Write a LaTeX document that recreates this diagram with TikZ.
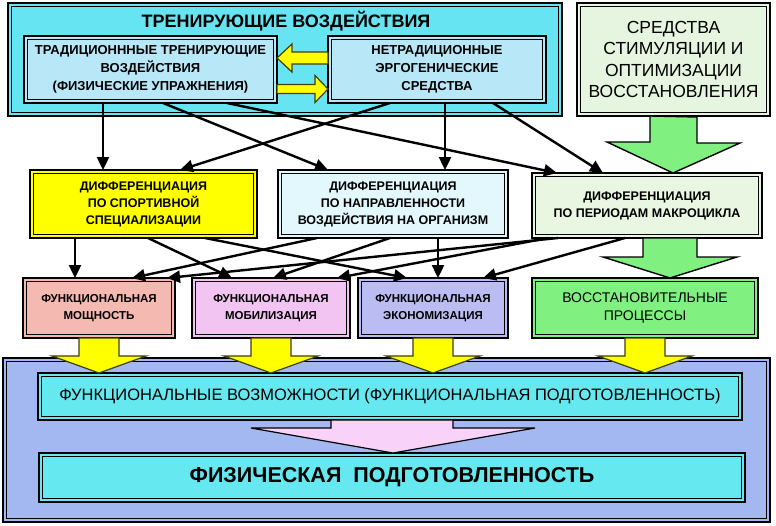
\documentclass[tikz,border=0pt]{standalone}
\usepackage{fontspec}
\setmainfont{Liberation Sans}
\usetikzlibrary{arrows.meta,calc}
\definecolor{trainfill}{HTML}{66E4F2}
\definecolor{innerfill}{HTML}{B8E8F8}
\definecolor{stimfill}{HTML}{E5F5E0}
\definecolor{yelfill}{HTML}{FFFF00}
\definecolor{naprfill}{HTML}{E3F8FD}
\definecolor{periodfill}{HTML}{E8F6E2}
\definecolor{pinkfill}{HTML}{F4B9B0}
\definecolor{lilacfill}{HTML}{F2C4F2}
\definecolor{lavfill}{HTML}{BBBDF2}
\definecolor{recovfill}{HTML}{80F080}
\definecolor{bigfill}{HTML}{A3B8F0}
\definecolor{funcfill}{HTML}{66E8F0}
\definecolor{parrowfill}{HTML}{F9D2F9}
\definecolor{yedge}{HTML}{404010}
\tikzset{
  dbox/.style={draw=black, line width=2.3pt, inner sep=0pt, outer sep=0pt, align=center,
    path picture={\draw[line width=0.8pt] ([shift={(3.4pt,3.4pt)}]path picture bounding box.south west) rectangle ([shift={(-3.4pt,-3.4pt)}]path picture bounding box.north east);}},
  barrow/.style={line width=2.4pt, -{Triangle[length=13pt,width=12pt]}},
  yarrow/.style={fill=yelfill, draw=yedge, line width=1.2pt, line join=miter},
  garrow/.style={fill=recovfill, draw=black, line width=1.4pt, line join=miter},
  parrow/.style={fill=parrowfill, draw=black, line width=1.2pt, line join=miter},
  ftitle/.style={font=\fontsize{18}{22}\selectfont\bfseries},
  finner/.style={font=\fontsize{13}{18}\selectfont\bfseries},
  fstim/.style={font=\fontsize{17.5}{21.5}\selectfont},
  frow/.style={font=\fontsize{12.5}{17}\selectfont\bfseries},
  ffun/.style={font=\fontsize{11.5}{17}\selectfont\bfseries},
  frec/.style={font=\fontsize{14}{18}\selectfont},
  fbig/.style={font=\fontsize{16.5}{20}\selectfont},
  fphys/.style={font=\fontsize{21.5}{25}\selectfont\bfseries},
}
\begin{document}
\begin{tikzpicture}[x=1pt,y=-1pt]
\useasboundingbox (0,0) rectangle (776,525);
\fill[white] (0,0) rectangle (776,525);

% top row
\node[dbox, fill=trainfill, minimum width=554pt, minimum height=113pt] (train) at (285,59.5) {};
\node[ftitle] (title) at (286,21) {ТРЕНИРУЮЩИЕ ВОЗДЕЙСТВИЯ};
\node[dbox, fill=innerfill, minimum width=253pt, minimum height=67pt, finner] (trad) at (150.5,69.5)
  {ТРАДИЦИОНННЫЕ ТРЕНИРУЮЩИЕ\\ВОЗДЕЙСТВИЯ\\(ФИЗИЧЕСКИЕ УПРАЖНЕНИЯ)};
\node[dbox, fill=innerfill, minimum width=218pt, minimum height=67pt, finner] (nontrad) at (437,69.5)
  {НЕТРАДИЦИОННЫЕ\\ЭРГОГЕНИЧЕСКИЕ\\СРЕДСТВА};
\node[dbox, fill=stimfill, minimum width=193pt, minimum height=113pt, fstim] (stim) at (673.5,59.5)
  {СРЕДСТВА\\СТИМУЛЯЦИИ И\\ОПТИМИЗАЦИИ\\ВОССТАНОВЛЕНИЯ};

% row 3
\node[dbox, fill=yelfill, minimum width=227pt, minimum height=68pt, frow] (spec) at (143.5,204)
  {ДИФФЕРЕНЦИАЦИЯ\\ПО СПОРТИВНОЙ\\СПЕЦИАЛИЗАЦИИ};
\node[dbox, fill=naprfill, minimum width=230pt, minimum height=68pt, frow] (napr) at (393,204)
  {ДИФФЕРЕНЦИАЦИЯ\\ПО НАПРАВЛЕННОСТИ\\ВОЗДЕЙСТВИЯ НА ОРГАНИЗМ};
\node[dbox, fill=periodfill, minimum width=230pt, minimum height=65pt, frow] (period) at (647,205.5)
  {ДИФФЕРЕНЦИАЦИЯ\\ПО ПЕРИОДАМ МАКРОЦИКЛА};

% row 4
\node[dbox, fill=pinkfill, minimum width=152pt, minimum height=60pt, ffun] (power) at (99,308)
  {ФУНКЦИОНАЛЬНАЯ\\МОЩНОСТЬ};
\node[dbox, fill=lilacfill, minimum width=158pt, minimum height=60pt, ffun] (mobil) at (271,308)
  {ФУНКЦИОНАЛЬНАЯ\\МОБИЛИЗАЦИЯ};
\node[dbox, fill=lavfill, minimum width=150pt, minimum height=60pt, ffun] (econ) at (433,308)
  {ФУНКЦИОНАЛЬНАЯ\\ЭКОНОМИЗАЦИЯ};
\node[dbox, fill=recovfill, minimum width=226pt, minimum height=60pt, frec] (recov) at (645,308)
  {ВОССТАНОВИТЕЛЬНЫЕ\\ПРОЦЕССЫ};

% bottom
\node[dbox, fill=bigfill, minimum width=767pt, minimum height=164pt] (big) at (386.5,440) {};
\node[dbox, fill=funcfill, minimum width=704pt, minimum height=47pt, fbig] (func) at (390,396.5)
  {ФУНКЦИОНАЛЬНЫЕ ВОЗМОЖНОСТИ (ФУНКЦИОНАЛЬНАЯ ПОДГОТОВЛЕННОСТЬ)};
\node[dbox, fill=funcfill, minimum width=706pt, minimum height=49pt, fphys] (phys) at (392,477.5)
  {ФИЗИЧЕСКАЯ~~ПОДГОТОВЛЕННОСТЬ};

% yellow arrows between inner boxes
\draw[yarrow] ([yshift=11.5pt]trad.east) -- ++(15,-14) -- ++(0,8) -- ++(36,0) -- ++(0,12) -- ++(-36,0) -- ++(0,8) -- cycle;
\draw[yarrow] ([yshift=-19.5pt]nontrad.west) -- ++(-13,-13.5) -- ++(0,9) -- ++(-38,0) -- ++(0,9) -- ++(38,0) -- ++(0,9) -- cycle;

% black arrows top -> row 3
\draw[barrow] ([xshift=-47.5pt]trad.south) -- ([xshift=-40.5pt]spec.north);
\draw[barrow] ([xshift=12.5pt]trad.south) -- ([xshift=-65pt]napr.north);
\draw[barrow] ([xshift=76.5pt]trad.south) -- ([xshift=-90pt]period.north);
\draw[barrow] ([xshift=-47pt]nontrad.south) -- ([xshift=36.5pt]spec.north);
\draw[barrow] ([xshift=8pt]nontrad.south) -- ([xshift=52pt]napr.north);
\draw[barrow] ([xshift=56pt]nontrad.south) -- ([xshift=-44pt]period.north);

% black arrows row 3 -> row 4
\draw[barrow] ([xshift=-68.5pt]spec.south) -- ([xshift=-24pt]power.north);
\draw[barrow] ([xshift=4.5pt]spec.south) -- ([xshift=-39pt]mobil.north);
\draw[barrow] ([xshift=61.5pt]spec.south) -- ([xshift=-26pt]econ.north);
\draw[barrow] ([xshift=-76pt]napr.south) -- ([xshift=33pt]power.north);
\draw[barrow] ([xshift=-3pt]napr.south) -- ([xshift=2pt]mobil.north);
\draw[barrow] ([xshift=45pt]napr.south) -- ([xshift=5pt]econ.north);
\draw[barrow] ([xshift=-89pt]period.south) -- ([xshift=68pt]power.north);
\draw[barrow] ([xshift=-99pt]period.south) -- ([xshift=66pt]mobil.north);
\draw[barrow] ([xshift=-22pt]period.south) -- ([xshift=50pt]econ.north);

% green block arrows
\draw[garrow] ([xshift=-23.5pt]stim.south) -- ++(0,26) -- ++(-43,0) -- ([xshift=26pt]period.north) -- ++(67,-30) -- ++(-43,0) -- ++(0,-26) -- cycle;
\draw[garrow] ([xshift=-4pt]period.south) -- ++(0,19) -- ++(-40,0) -- ([xshift=25pt]recov.north) -- ++(67,-21) -- ++(-40,0) -- ++(0,-19) -- cycle;

% yellow block arrows to functional capabilities
\draw[yarrow] ([xshift=-20pt]power.south) -- ++(0,18) -- ++(-27,0) -- ([xshift=-291pt]func.north) -- ++(47,-17) -- ++(-27,0) -- ++(0,-18) -- cycle;
\draw[yarrow] ([xshift=-20pt]mobil.south) -- ++(0,18) -- ++(-27,0) -- ([xshift=-119pt]func.north) -- ++(47,-17) -- ++(-27,0) -- ++(0,-18) -- cycle;
\draw[yarrow] ([xshift=-20pt]econ.south) -- ++(0,18) -- ++(-27,0) -- ([xshift=43pt]func.north) -- ++(47,-17) -- ++(-27,0) -- ++(0,-18) -- cycle;
\draw[yarrow] ([xshift=-20pt]recov.south) -- ++(0,18) -- ++(-27,0) -- ([xshift=255pt]func.north) -- ++(47,-17) -- ++(-27,0) -- ++(0,-18) -- cycle;

% pink block arrow
\draw[parrow] ([xshift=-59pt]func.south) -- ++(0,8) -- ++(-80,0) -- ([xshift=1pt]phys.north) -- ++(142,-25) -- ++(-82,0) -- ++(0,-8) -- cycle;
\end{tikzpicture}
\end{document}
